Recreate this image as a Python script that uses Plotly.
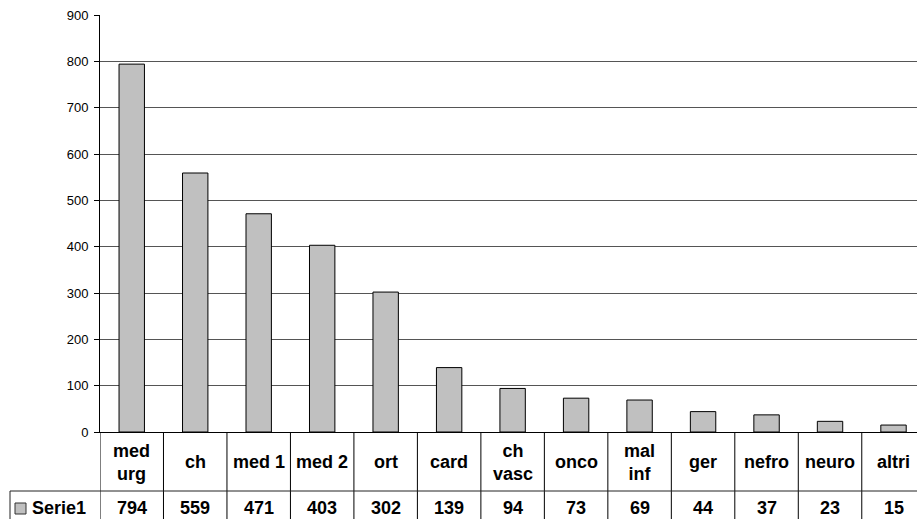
import plotly.graph_objects as go

# Department codes (two-line labels where the category name is long)
categories = ["med<br>urg", "ch", "med 1", "med 2", "ort", "card", "ch<br>vasc",
              "onco", "mal<br>inf", "ger", "nefro", "neuro", "altri"]
values = [794, 559, 471, 403, 302, 139, 94, 73, 69, 44, 37, 23, 15]
series_name = "Serie1"
y_ticks = [0, 100, 200, 300, 400, 500, 600, 700, 800, 900]

W, H = 917, 519
ML, MT, MB = 100, 15, 87
PLOT_W = W - ML
PLOT_H = H - MT - MB
AXIS_Y = H - MB  # pixel row of the category axis


def py(pix):
    """pixel row -> paper y"""
    return (AXIS_Y - pix) / PLOT_H


def px(pix):
    """pixel column -> paper x"""
    return (pix - ML) / PLOT_W


idx = list(range(len(categories)))

fig = go.Figure(go.Bar(
    x=idx, y=values, width=0.4,
    marker=dict(color="#C0C0C0", line=dict(color="#000000", width=1)),
    showlegend=False,
))

font_tbl = dict(family="Liberation Sans, Arial, sans-serif", size=18, color="#000000")

shapes = []
annotations = []

# data-table column separators at category boundaries
for k in range(len(categories) + 1):
    shapes.append(dict(type="line", xref="x", yref="paper",
                       x0=k - 0.5, x1=k - 0.5, y0=0, y1=py(540),
                       line=dict(color="#000000", width=1)))

# row separator between header and values, spanning the legend cell too
shapes.append(dict(type="line", xref="paper", yref="paper",
                   x0=px(10), x1=1.0, y0=py(491), y1=py(491),
                   line=dict(color="#222222", width=1)))
# left edge of the legend cell
shapes.append(dict(type="line", xref="paper", yref="paper",
                   x0=px(10), x1=px(10), y0=py(491), y1=py(540),
                   line=dict(color="#222222", width=1)))
# legend key
shapes.append(dict(type="rect", xref="paper", yref="paper",
                   x0=px(15), x1=px(26), y0=py(514), y1=py(503),
                   fillcolor="#C0C0C0", line=dict(color="#333333", width=1)))

annotations.append(dict(xref="paper", yref="paper", x=px(30), y=py(508),
                        xanchor="left", yanchor="middle", showarrow=False,
                        text="<b>" + series_name + "</b>", font=font_tbl))

for i, (cat, v) in enumerate(zip(categories, values)):
    annotations.append(dict(xref="x", yref="paper", x=i, y=py(462),
                            xanchor="center", yanchor="middle", showarrow=False,
                            text="<b>" + cat + "</b>", font=font_tbl))
    annotations.append(dict(xref="x", yref="paper", x=i, y=py(508),
                            xanchor="center", yanchor="middle", showarrow=False,
                            text="<b>" + str(v) + "</b>", font=font_tbl))

fig.update_layout(
    width=W, height=H,
    margin=dict(l=ML, r=0, t=MT, b=MB, pad=0),
    paper_bgcolor="#FFFFFF", plot_bgcolor="#FFFFFF",
    bargap=0.6,
    shapes=shapes, annotations=annotations,
    xaxis=dict(range=[-0.5, 12.37], showticklabels=False, ticks="",
               showgrid=False, zeroline=False, showline=True,
               linecolor="#000000", linewidth=1),
    yaxis=dict(range=[0, 900], tickvals=y_ticks, ticks="outside", ticklen=5,
               tickcolor="#000000", showline=True, linecolor="#000000",
               linewidth=1, showgrid=True, gridcolor="#555555", gridwidth=1,
               zeroline=False, ticklabelstandoff=3,
               tickfont=dict(family="Liberation Sans, Arial, sans-serif",
                             size=13, color="#000000")),
)

fig.write_html("out.html")
